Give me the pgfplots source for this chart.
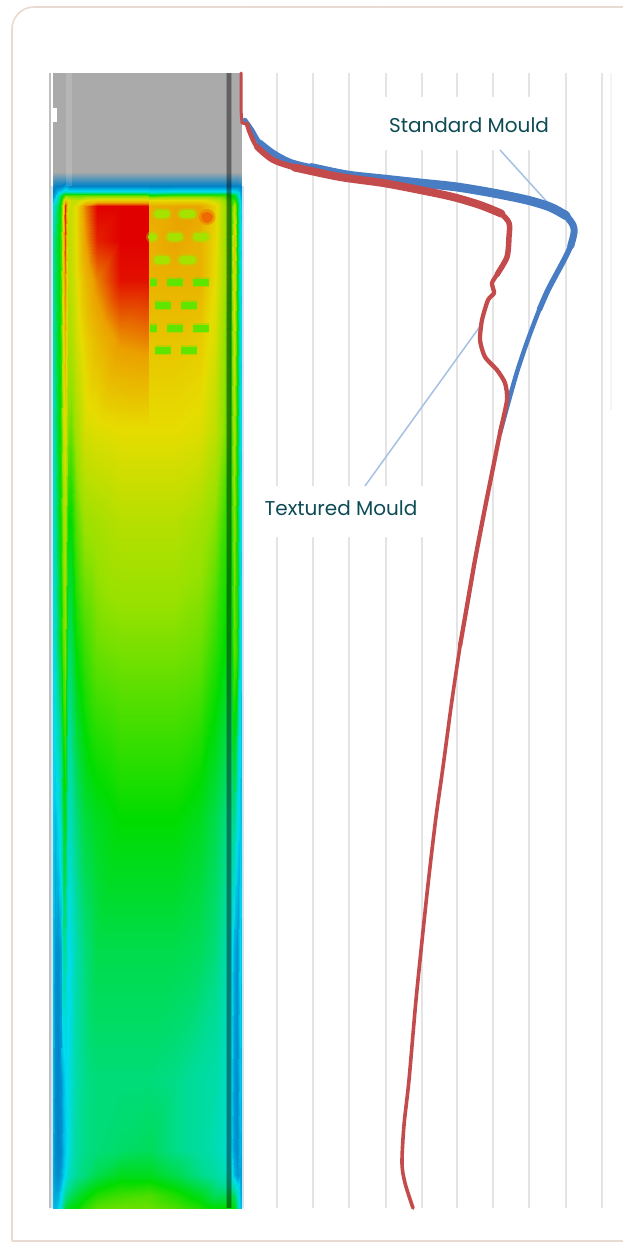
\documentclass[border=0pt]{standalone}
\usepackage{fontspec}
\setmainfont{Poppins}
\usepackage{pgfplots}
\usepackage{pgfplotstable}
\pgfplotsset{compat=1.18}
\definecolor{labelink}{RGB}{13,75,85}
\definecolor{cardline}{RGB}{232,218,208}
\definecolor{gridgrey}{RGB}{228,228,228}
\definecolor{leader}{RGB}{165,192,226}
\definecolor{edgeblue}{RGB}{205,228,245}
\definecolor{bluecurve}{RGB}{72,125,195}
\definecolor{redcurve}{RGB}{195,75,75}
\definecolor{limeblock}{RGB}{165,226,0}
\definecolor{greenblock}{RGB}{95,230,0}
\definecolor{hotspot}{RGB}{240,95,0}

% both axes use reference pixels as data units
\pgfplotsset{pixelaxis/.style={
    scale only axis, width=623pt, height=1242pt,
    xmin=0, xmax=623, ymin=0, ymax=1242, y dir=reverse,
    axis lines=none, ticks=none,
}}

% temperature field, plain half of the mould
\pgfplotstableread{
x y c
53 73 0
55 73 0
58 73 0
61 73 0
63 73 0
65 73 0
68 73 0
71 73 0
76 73 0
85 73 0
97 73 0
120 73 0
149 73 0
53 172 0
55 172 0
58 172 0
61 172 0
63 172 0
65 172 0
68 172 0
71 172 0
76 172 0
85 172 0
97 172 0
120 172 0
149 172 0
53 180 0.5
55 180 0.6
58 180 0.6
61 180 0.6
63 180 0.6
65 180 0.6
68 180 0.6
71 180 0.6
76 180 0.6
85 180 0.6
97 180 0.6
120 180 0.6
149 180 0.6
53 186 0.8
55 186 1
58 186 1
61 186 1
63 186 1.1
65 186 1.3
68 186 1.2
71 186 1
76 186 1
85 186 1
97 186 1
120 186 1
149 186 1
53 191 1
55 191 1.2
58 191 1.6
61 191 1.8
63 191 2
65 191 2.4
68 191 2
71 191 2
76 191 2
85 191 2
97 191 2
120 191 2
149 191 2
53 195 1.2
55 195 1.5
58 195 2.5
61 195 3.5
63 195 4
65 195 4.5
68 195 4.5
71 195 4.5
76 195 4.5
85 195 4.5
97 195 4.5
120 195 4.5
149 195 4.5
53 200 1.6
55 200 2
58 200 3
61 200 4
63 200 5
65 200 6.5
68 200 5.8
71 200 5.6
76 200 5.5
85 200 6
97 200 6.2
120 200 6.2
149 200 6.2
53 206 2.2
55 206 2.8
58 206 3.5
61 206 4.3
63 206 6
65 206 7.8
68 206 5.8
71 206 5.6
76 206 6
85 206 7.2
97 206 8
120 206 8
149 206 8
53 240 2.8
55 240 3.3
58 240 3.8
61 240 4.4
63 240 6.2
65 240 7.6
68 240 5.5
71 240 5.6
76 240 6
85 240 7
97 240 7.8
120 240 8
149 240 8
53 280 2.8
55 280 3.3
58 280 3.8
61 280 4.4
63 280 6.2
65 280 7.2
68 280 5.4
71 280 5.5
76 280 5.9
85 280 6.6
97 280 7.2
120 280 7.9
149 280 7.9
53 340 2.7
55 340 3.2
58 340 3.8
61 340 4.3
63 340 5.8
65 340 6.7
68 340 5.2
71 340 5.3
76 340 5.7
85 340 6.2
97 340 6.6
120 340 7.1
149 340 7.2
53 430 2.4
55 430 3.1
58 430 3.7
61 430 4.3
63 430 5.5
65 430 6
68 430 4.8
71 430 4.7
76 430 5.2
85 430 5.8
97 430 5.9
120 430 6
149 430 6
53 520 2.2
55 520 2.9
58 520 3.6
61 520 4.2
63 520 5
65 520 5.4
68 520 4
71 520 4
76 520 4.6
85 520 5.1
97 520 5.2
120 520 5.4
149 520 5.4
53 650 2
55 650 2.5
58 650 3.3
61 650 3.9
63 650 4.6
65 650 4.9
68 650 3.3
71 650 3.4
76 650 4
85 650 4.4
97 650 4.7
120 650 4.8
149 650 4.8
53 820 1.9
55 820 1.6
58 820 2
61 820 2.6
63 820 3.6
65 820 3.9
68 820 2.6
71 820 2.7
76 820 3.2
85 820 3.6
97 820 3.8
120 820 4
149 820 4
53 950 1.8
55 950 1.2
58 950 1.1
61 950 1.4
63 950 3
65 950 3
68 950 2
71 950 2.2
76 950 2.8
85 950 3.2
97 950 3.5
120 950 3.5
149 950 3.5
53 1080 1.7
55 1080 1.1
58 1080 1
61 1080 1.2
63 1080 1.6
65 1080 1.9
68 1080 2.1
71 1080 2.4
76 1080 2.8
85 1080 3.1
97 1080 3.2
120 1080 3.2
149 1080 3.2
53 1150 1.6
55 1150 1.1
58 1150 1
61 1150 1.1
63 1150 1.5
65 1150 1.8
68 1150 2.1
71 1150 2.5
76 1150 2.9
85 1150 3.1
97 1150 3.2
120 1150 3.3
149 1150 3.4
53 1175 1.5
55 1175 1.2
58 1175 1.1
61 1175 1.3
63 1175 1.7
65 1175 2
68 1175 2.4
71 1175 2.7
76 1175 3
85 1175 3.2
97 1175 3.5
120 1175 3.8
149 1175 3.8
53 1195 1.6
55 1195 1.4
58 1195 1.5
61 1195 2
63 1195 2.4
65 1195 3
68 1195 3.2
71 1195 3.4
76 1195 3.6
85 1195 3.9
97 1195 4.2
120 1195 4.4
149 1195 4.5
53 1208 1.7
55 1208 1.6
58 1208 1.8
61 1208 2.5
63 1208 3
65 1208 3.6
68 1208 3.8
71 1208 3.9
76 1208 4
85 1208 4.3
97 1208 4.6
120 1208 4.7
149 1208 4.7
}\plainfield

% temperature field, textured half of the mould
\pgfplotstableread{
x y c
149 73 0
175 73 0
200 73 0
215 73 0
224 73 0
231 73 0
234 73 0
237 73 0
240 73 0
242 73 0
149 172 0
175 172 0
200 172 0
215 172 0
224 172 0
231 172 0
234 172 0
237 172 0
240 172 0
242 172 0
149 180 0.6
175 180 0.6
200 180 0.6
215 180 0.6
224 180 0.6
231 180 0.6
234 180 0.6
237 180 0.6
240 180 0.5
242 180 0.4
149 186 1
175 186 1
200 186 1
215 186 1
224 186 1
231 186 1
234 186 1
237 186 1
240 186 1
242 186 0.9
149 191 1.9
175 191 2
200 191 2
215 191 2
224 191 2
231 191 2
234 191 1.9
237 191 1.8
240 191 1.4
242 191 1
149 195 4
175 195 4.3
200 195 4.3
215 195 4.3
224 195 4.3
231 195 4
234 195 3.8
237 195 3
240 195 1.6
242 195 1
149 200 6
175 200 6
200 200 6
215 200 5.6
224 200 5
231 200 4.2
234 200 4.5
237 200 3.5
240 200 2
242 200 1.2
149 206 6.8
175 206 6.9
200 206 6.9
215 206 6.2
224 206 5.2
231 206 4.3
234 206 5.5
237 206 4
240 206 2.2
242 206 1.4
149 240 6.7
175 240 6.9
200 240 6.7
215 240 6.1
224 240 5.2
231 240 4.2
234 240 6.5
237 240 4
240 240 2.3
242 240 1.6
149 280 6.7
175 280 6.7
200 280 6.7
215 280 6
224 280 5.2
231 280 4.2
234 280 6.2
237 280 4.1
240 280 2.3
242 280 1.6
149 340 6.4
175 340 6.4
200 340 6.3
215 340 5.8
224 340 5
231 340 4.2
234 340 5.8
237 340 4.1
240 340 2.3
242 340 1.6
149 430 6
175 430 6
200 430 5.9
215 430 5.5
224 430 4.9
231 430 4.2
234 430 5.4
237 430 4.1
240 430 2.3
242 430 1.6
149 520 5.4
175 520 5.4
200 520 5.2
215 520 4.9
224 520 4.4
231 520 4.1
234 520 5
237 520 4.1
240 520 2.3
242 520 1.6
149 650 4.8
175 650 4.8
200 650 4.7
215 650 4.3
224 650 4
231 650 3.7
234 650 4.7
237 650 4.3
240 650 2.3
242 650 1.6
149 820 4
175 820 4
200 820 3.8
215 820 3.5
224 820 3.2
231 820 2.9
234 820 3.2
237 820 2.2
240 820 1.8
242 820 1.6
149 950 3.5
175 950 3.5
200 950 3.4
215 950 3.2
224 950 2.9
231 950 2.2
234 950 1.5
237 950 1.2
240 950 2
242 950 1.5
149 1080 3.2
175 1080 3.1
200 1080 2.9
215 1080 2.8
224 1080 2.6
231 1080 2
234 1080 1.3
237 1080 1.1
240 1080 1.8
242 1080 1.4
149 1150 3.4
175 1150 3.1
200 1150 2.9
215 1150 2.7
224 1150 2.5
231 1150 1.9
234 1150 1.3
237 1150 1.1
240 1150 1.6
242 1150 1.3
149 1175 3.8
175 1175 3.5
200 1175 3.1
215 1175 2.9
224 1175 2.7
231 1175 2.4
234 1175 1.6
237 1175 1.2
240 1175 1.4
242 1175 1.2
149 1195 4.5
175 1195 4.2
200 1195 3.8
215 1195 3.4
224 1195 3.4
231 1195 3.6
234 1195 3.4
237 1195 2.6
240 1195 1.6
242 1195 1.3
149 1208 4.7
175 1208 4.5
200 1208 4.2
215 1208 4
224 1208 4
231 1208 4
234 1208 4
237 1208 3.2
240 1208 1.8
242 1208 1.5
}\texturedfield

\begin{document}
\begin{tikzpicture}
\begin{axis}[pixelaxis, view={0}{90},
    colormap={mould}{rgb255(0)=(170,170,170) rgb255(1)=(0,130,200) rgb255(2)=(0,220,240) rgb255(3)=(0,220,150) rgb255(4)=(0,220,0) rgb255(5)=(150,225,0) rgb255(6)=(230,220,0) rgb255(7)=(235,160,0) rgb255(8)=(225,0,0)},
    point meta min=0, point meta max=8]
\addplot3[surf, shader=interp, mesh/cols=13, point meta=explicit] table[x=x, y=y, z expr=0, meta=c] {\plainfield};
\addplot3[surf, shader=interp, mesh/cols=10, point meta=explicit] table[x=x, y=y, z expr=0, meta=c] {\texturedfield};
\end{axis}
\begin{axis}[pixelaxis, unbounded coords=jump, line join=round]
\path (axis cs:0,0) rectangle (axis cs:623,1242);
% card outline
\addplot[cardline, line width=1.6pt, rounded corners=22pt] coordinates {(12,1241) (12,7) (660,7) (660,1241) (12,1241)};

% mould details over the field
\addplot[black!25, line width=1.5pt] coordinates {(50,73) (50,1208)};
\addplot[edgeblue, line width=1.5pt] coordinates {(52,186) (52,1208)};
\addplot[edgeblue, line width=1.5pt] coordinates {(243,186) (243,1208)};
\addplot[white, line width=4pt] coordinates {(55,108) (55,122)};
\addplot[white, opacity=0.15, line width=6pt] coordinates {(69,73) (69,186)};
\addplot[black, opacity=0.18, line width=6pt] coordinates {(229,73) (229,1208)};
\addplot[black, opacity=0.3, line width=3.5pt] coordinates {(229,73) (229,1208)};

% texture dimples
\addplot[limeblock, opacity=0.35, line width=12pt, line cap=round] coordinates {(158,214) (166,214) (170,nan) (183,214) (192,214) (190,nan) (152,237) (153,237) (160,nan) (171,237) (179,237) (185,nan) (197,237) (205,237) (200,nan) (158,260) (166,260) (170,nan) (183,260) (192,260)};
\addplot[limeblock, line width=8pt, line cap=round] coordinates {(158,214) (166,214) (170,nan) (183,214) (192,214) (190,nan) (152,237) (153,237) (160,nan) (171,237) (179,237) (185,nan) (197,237) (205,237) (200,nan) (158,260) (166,260) (170,nan) (183,260) (192,260)};
\addplot[greenblock, opacity=0.3, line width=10pt] coordinates {(150,282) (157,282) (160,nan) (167,282) (183,282) (185,nan) (193,282) (209,282) (200,nan) (155,305) (171,305) (175,nan) (181,305) (197,305) (190,nan) (150,328) (157,328) (160,nan) (167,328) (183,328) (185,nan) (193,328) (209,328) (200,nan) (155,350) (171,350) (175,nan) (181,350) (197,350)};
\addplot[greenblock, line width=7pt] coordinates {(150,282) (157,282) (160,nan) (167,282) (183,282) (185,nan) (193,282) (209,282) (200,nan) (155,305) (171,305) (175,nan) (181,305) (197,305) (190,nan) (150,328) (157,328) (160,nan) (167,328) (183,328) (185,nan) (193,328) (209,328) (200,nan) (155,350) (171,350) (175,nan) (181,350) (197,350)};
\addplot[hotspot, opacity=0.4, line width=16pt, line cap=round] coordinates {(207,217) (207.5,217)};
\addplot[hotspot, opacity=0.8, line width=11pt, line cap=round] coordinates {(207,217) (207.5,217)};

% grid of the profile panel
\addplot[gridgrey, line width=2.8pt] coordinates {(277,73) (277,1208)};
\addplot[gridgrey, line width=2.8pt] coordinates {(313,73) (313,1208)};
\addplot[gridgrey, line width=2.8pt] coordinates {(349,73) (349,1208)};
\addplot[gridgrey, line width=2.8pt] coordinates {(386,73) (386,1208)};
\addplot[gridgrey, line width=2.8pt] coordinates {(422,73) (422,1208)};
\addplot[gridgrey, line width=2.8pt] coordinates {(457,73) (457,1208)};
\addplot[gridgrey, line width=2.8pt] coordinates {(493,73) (493,1208)};
\addplot[gridgrey, line width=2.8pt] coordinates {(529,73) (529,1208)};
\addplot[gridgrey, line width=2.8pt] coordinates {(566,73) (566,1208)};
\addplot[gridgrey, line width=2.8pt] coordinates {(602,73) (602,1208)};
\addplot[gridgrey!40, line width=2pt] coordinates {(611,73) (611,410)};

% label patches and leader lines
\addplot[fill=white, draw=none] coordinates {(377,97) (563,97) (563,150) (377,150)} \closedcycle;
\addplot[fill=white, draw=none] coordinates {(245,486) (453,486) (453,537) (245,537)} \closedcycle;
\addplot[leader, line width=1.5pt] coordinates {(500,150) (548,203)};
\addplot[leader, line width=1.5pt] coordinates {(365,486) (481,325)};

% profiles: blue first, red over it, widths taper as in the reference
\addplot[bluecurve, line width=4.5pt, smooth, line cap=round] coordinates {(245,120) (252,130) (260,143) (273,153) (290,162) (313,168) (347,175) (383,179) (420,183) (457,187) (493,193) (527,200) (550,207) (565,215) (573,225) (574,233) (571,245) (565,258) (557,273) (548,290) (540,308) (533,326) (526,345) (517,372) (509,400) (500,433)};
\addplot[bluecurve, line width=6.5pt, smooth, line cap=round] coordinates {(260,143) (273,153) (290,162) (313,168) (347,175)};
\addplot[bluecurve, line width=9pt, smooth, line cap=round] coordinates {(312.5,167.9) (313,168) (347,175) (383,179) (420,183) (457,187) (493,193) (527,200) (550,207) (565,215) (565.5,215.3)};
\addplot[bluecurve, line width=7pt, smooth, line cap=round] coordinates {(550,207) (565,215) (573,225) (574,233) (571,245) (570.8,245.5)};
\addplot[bluecurve, line width=5.5pt, smooth, line cap=round] coordinates {(574,233) (571,245) (565,258) (557,273) (548,290) (540,308) (539.8,308.5)};
\addplot[redcurve, line width=3pt, line cap=round] coordinates {(241,73) (241,110) (242,123) (247,124) (250,133)};
\addplot[redcurve, line width=4.5pt, smooth, line cap=round] coordinates {(247,124) (250,133) (257,147) (273,160)};
\addplot[redcurve, line width=6pt, smooth, line cap=round] coordinates {(257,147) (273,160) (297,168) (340,177)};
\addplot[redcurve, line width=8pt, smooth, line cap=round] coordinates {(296.5,167.9) (297,168) (340,177) (383,183) (420,190) (453,197) (480,205) (500,213) (500.5,213.3)};
\addplot[redcurve, line width=5.5pt, smooth, line cap=round] coordinates {(480,205) (500,213) (509,223) (509,237) (507,257) (498,273) (497.6,273.8)};
\addplot[redcurve, line width=4.3pt, line cap=round, smooth, tension=0.4] coordinates {(507,257) (498,273) (492,283) (494,293) (488,300) (482,320) (480,340) (485,357) (497,370) (505,383) (507,400) (500,433) (492,473) (484,513) (475,560) (467.5,603) (460.5,643) (460.3,644.2)};
\addplot[redcurve, line width=3.6pt, line cap=round, smooth] coordinates {(460.5,643) (452,700) (443,767) (436,817) (430,867) (424.5,917) (416,1000) (409,1080) (404,1125) (402,1163) (405,1183) (413,1208)};

\node[font=\fontsize{20}{22}\selectfont, text=labelink] at (axis cs:469,125) {Standard Mould};
\node[font=\fontsize{20}{22}\selectfont, text=labelink] at (axis cs:341,508) {Textured Mould};
\end{axis}
\end{tikzpicture}
\end{document}
